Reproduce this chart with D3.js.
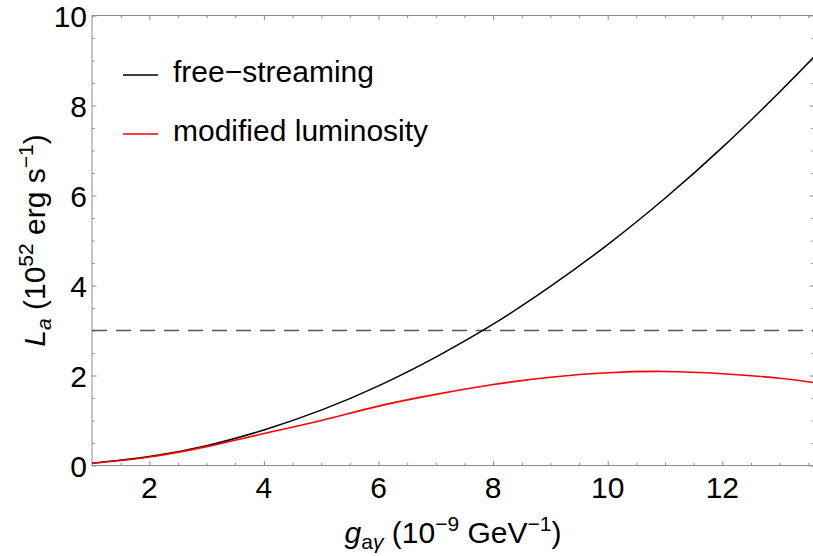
<!DOCTYPE html>
<html>
<head>
<meta charset="utf-8">
<script src="https://cdn.jsdelivr.net/npm/d3@7"></script>
<style>
  body { margin: 0; background: #fff; }
  svg { display: block; font-family: "Liberation Sans", Arial, Helvetica, sans-serif; }
</style>
</head>
<body>
<svg id="chart" width="813" height="556"></svg>
<script>
// values
const couplings = [1, 2, 3, 4, 5, 6, 7, 8, 9, 10, 11, 12, 13, 13.6];
const freeStreaming = [0.05, 0.20, 0.44, 0.79, 1.23, 1.77, 2.41, 3.14, 3.98, 4.91, 5.94, 7.07, 8.30, 9.08];
const modifiedLum = [0.05, 0.19, 0.42, 0.71, 1.00, 1.32, 1.58, 1.80, 1.96, 2.06, 2.09, 2.04, 1.94, 1.84];
const thresholdLum = 3;
const xTicks = [2, 4, 6, 8, 10, 12];
const yTicks = [0, 2, 4, 6, 8, 10];
const legendItems = [
  { label: "free\u2212streaming", color: "#000" },
  { label: "modified luminosity", color: "#ff0000" }
];

// plot frame
const margin = { top: 15.5, right: -1, bottom: 90.5, left: 92 };
const width = 813 - margin.left - margin.right;
const height = 556 - margin.top - margin.bottom;

const svg = d3.select("#chart");
const g = svg.append("g")
  .attr("transform", "translate(" + margin.left + "," + margin.top + ")");

const x = d3.scaleLinear().domain([1, 13.6]).range([0, width]);
const y = d3.scaleLinear().domain([0, 10]).range([height, 0]);

const frameColor = "#8c8c8c";
const fontSize = 30;
const smallSize = 21;

// minor/major ticks, pointing inward, on all four sides
const xMinor = d3.range(1, 13.6, 0.5).filter(v => v % 2 !== 0);
const yMinor = d3.range(0.5, 10, 0.5).filter(v => v % 2 !== 0);

function drawTicks(axisFn, scale, vals, len, transform) {
  g.append("g")
    .attr("transform", transform)
    .call(axisFn(scale).tickValues(vals).tickSize(len).tickFormat(""))
    .call(s => s.select(".domain").remove())
    .call(s => s.selectAll("line").attr("stroke", frameColor));
}
drawTicks(d3.axisTop, x, xTicks, 4.5, "translate(0," + height + ")");
drawTicks(d3.axisTop, x, xMinor, 2.6, "translate(0," + height + ")");
drawTicks(d3.axisBottom, x, xTicks, 4.5, "translate(0,0)");
drawTicks(d3.axisBottom, x, xMinor, 2.6, "translate(0,0)");
drawTicks(d3.axisRight, y, yTicks, 4.5, "translate(0,0)");
drawTicks(d3.axisRight, y, yMinor, 2.6, "translate(0,0)");
drawTicks(d3.axisLeft, y, yTicks, 4.5, "translate(" + width + ",0)");
drawTicks(d3.axisLeft, y, yMinor, 2.6, "translate(" + width + ",0)");

// frame
g.append("rect")
  .attr("width", width).attr("height", height)
  .attr("fill", "none").attr("stroke", frameColor).attr("stroke-width", 1);

// tick labels
g.selectAll(".xlab").data(xTicks).join("text")
  .attr("x", d => x(d)).attr("y", height + 32)
  .attr("text-anchor", "middle").attr("font-size", fontSize)
  .text(d => d);

g.selectAll(".ylab").data(yTicks).join("text")
  .attr("x", -5).attr("y", d => y(d) + 11)
  .attr("text-anchor", "end").attr("font-size", fontSize)
  .text(d => d);

// threshold line
g.append("line")
  .attr("x1", 0).attr("x2", width)
  .attr("y1", y(thresholdLum)).attr("y2", y(thresholdLum))
  .attr("stroke", "#555").attr("stroke-width", 1.3)
  .attr("stroke-dasharray", "15,9");

// curves
const line = d3.line()
  .x((d, i) => x(couplings[i]))
  .y(d => y(d))
  .curve(d3.curveNatural);

g.append("path").datum(freeStreaming)
  .attr("d", line).attr("fill", "none")
  .attr("stroke", "#000").attr("stroke-width", 1.5);

g.append("path").datum(modifiedLum)
  .attr("d", line).attr("fill", "none")
  .attr("stroke", "#ff0000").attr("stroke-width", 1.6);

// legend
const legend = svg.append("g");
legendItems.forEach((item, i) => {
  const ly = 75 + i * 59;
  legend.append("line")
    .attr("x1", 123).attr("x2", 158).attr("y1", ly).attr("y2", ly)
    .attr("stroke", item.color).attr("stroke-width", 1.3);
  legend.append("text")
    .attr("x", 173).attr("y", ly + 7)
    .attr("font-size", fontSize)
    .text(item.label);
});

// axis titles
const xt = svg.append("text")
  .attr("x", margin.left + width / 2).attr("y", 543)
  .attr("text-anchor", "middle").attr("font-size", fontSize);
xt.append("tspan").attr("font-style", "italic").text("g");
xt.append("tspan").attr("font-size", smallSize).attr("dy", 6).text("a");
xt.append("tspan").attr("font-size", smallSize).attr("font-style", "italic").text("\u03b3");
xt.append("tspan").attr("dy", -6).text(" (10");
xt.append("tspan").attr("font-size", smallSize).attr("dy", -12).text("\u22129");
xt.append("tspan").attr("dy", 12).text(" GeV");
xt.append("tspan").attr("font-size", smallSize).attr("dy", -12).text("\u22121");
xt.append("tspan").attr("dy", 12).text(")");

const yt = svg.append("text")
  .attr("transform", "translate(45," + (margin.top + height / 2) + ") rotate(-90)")
  .attr("text-anchor", "middle").attr("font-size", fontSize);
yt.append("tspan").attr("font-style", "italic").text("L");
yt.append("tspan").attr("font-size", smallSize).attr("font-style", "italic").attr("dy", 6).text("a");
yt.append("tspan").attr("dy", -6).text(" (10");
yt.append("tspan").attr("font-size", smallSize).attr("dy", -12).text("52");
yt.append("tspan").attr("dy", 12).text(" erg s");
yt.append("tspan").attr("font-size", smallSize).attr("dy", -12).text("\u22121");
yt.append("tspan").attr("dy", 12).text(")");
</script>
</body>
</html>
